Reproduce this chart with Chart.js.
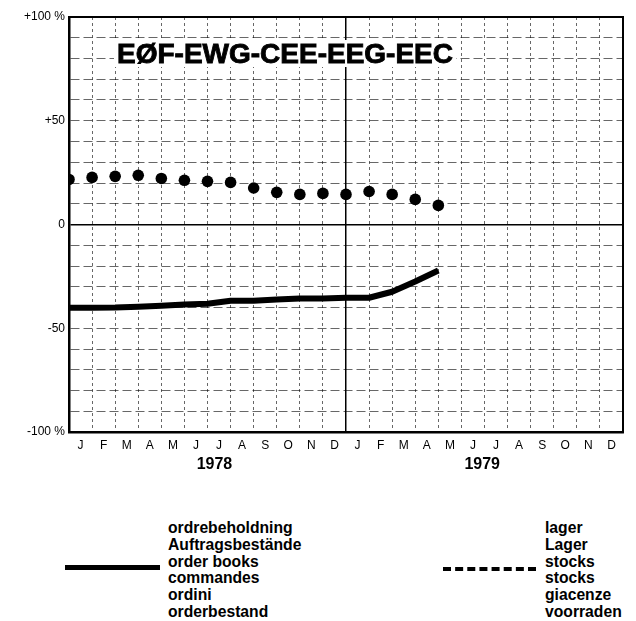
<!DOCTYPE html>
<html>
<head>
<meta charset="utf-8">
<script src="https://cdn.jsdelivr.net/npm/chart.js@4.4.0/dist/chart.umd.min.js"></script>
<style>
  body { margin: 0; background: #fff; }
  #wrap { position: relative; width: 636px; height: 621px; overflow: hidden; }
  #chart { position: absolute; left: 0; top: 0; }
  .lg { position: absolute; font: bold 15.7px "Liberation Sans", Arial, sans-serif; line-height: 16.8px; color: #000; }
  .ln { position: absolute; height: 0; }
</style>
</head>
<body>
<div id="wrap">
  <canvas id="chart" width="636" height="490"></canvas>

  <div class="ln" style="left:65px; top:565px; width:95px; border-top:5px solid #000;"></div>
  <div class="lg" style="left:168px; top:520px;">ordrebeholdning<br>Auftragsbestände<br>order books<br>commandes<br>ordini<br>orderbestand</div>

  <div class="ln" style="left:443px; top:567px; width:93px; border-top:4px dashed #000;"></div>
  <div class="lg" style="left:545px; top:520px;">lager<br>Lager<br>stocks<br>stocks<br>giacenze<br>voorraden</div>
</div>

<script>
const months = ['J', 'F', 'M', 'A', 'M', 'J', 'J', 'A', 'S', 'O', 'N', 'D',
                'J', 'F', 'M', 'A', 'M', 'J', 'J', 'A', 'S', 'O', 'N', 'D'];

// readings at the start of each month, Jan 1978 .. May 1979
const stocks = [21.7, 22.7, 23.2, 23.7, 22.2, 21.3, 20.8, 20.3, 17.6, 15.5, 14.5, 15.0, 14.5, 15.9, 14.5, 12.1, 9.2];
const orderBooks = [-40.1, -40.1, -40.0, -39.6, -39.1, -38.6, -38.2, -36.7, -36.7, -36.2, -35.7, -35.7, -35.3, -35.3, -32.4, -27.5, -22.2];

const yTickValues = [100, 50, 0, -50, -100];
const yTickLabels = ['+100 %', '+50', '0', '-50', '-100 %'];

const yearTicks = [6.3, 17.9];
const yearLabels = ['1978', '1979'];

const title = 'EØF-EWG-CEE-EEG-EEC';

// frame + title inside the plot
const frame = {
    id: 'frame',
    beforeDatasetsDraw(chart) {
        const { ctx, chartArea } = chart;
        ctx.save();
        ctx.font = 'bold 28px "Liberation Sans", Arial, sans-serif';
        const w = ctx.measureText(title).width;
        const x = chartArea.left + 48, y = chartArea.top + 46;
        ctx.fillStyle = '#fff';
        ctx.fillRect(x - 3, y - 23, w + 6, 27);
        ctx.fillStyle = '#000';
        ctx.strokeStyle = '#000';
        ctx.lineWidth = 0.9;
        ctx.fillText(title, x, y);
        ctx.strokeText(title, x, y);
        ctx.restore();
    },
    afterDraw(chart) {
        const { ctx, chartArea } = chart;
        ctx.save();
        ctx.strokeStyle = '#000';
        ctx.lineWidth = 2;
        ctx.strokeRect(chartArea.left, chartArea.top, chartArea.width, chartArea.height);
        ctx.restore();
    }
};

const ctx = document.getElementById('chart');

let chart = new Chart(ctx, {
    type: 'line',
    data: {
        datasets: [
            {
                label: 'order books',
                data: orderBooks.map((v, i) => ({ x: i, y: v })),
                borderColor: '#000',
                borderWidth: 6,
                pointRadius: 0,
                tension: 0,
                borderJoinStyle: 'round',
                xAxisID: 'x',
                yAxisID: 'y'
            },
            {
                label: 'stocks',
                data: stocks.map((v, i) => ({ x: i, y: v })),
                showLine: false,
                pointRadius: 5.8,
                pointBorderWidth: 0,
                pointBackgroundColor: '#000',
                xAxisID: 'x',
                yAxisID: 'y'
            }
        ]
    },
    options: {
        responsive: false,
        animation: false,
        layout: { padding: { top: 17, right: 13, left: 0, bottom: 14 } },
        plugins: {
            legend: { display: false },
            tooltip: { enabled: false }
        },
        scales: {
            x: {
                type: 'linear',
                display: false,
                min: 0,
                max: 24
            },
            m: {
                type: 'category',
                position: 'bottom',
                labels: months,
                offset: true,
                afterFit(scale) { scale.height = 20; },
                grid: {
                    offset: true,
                    drawTicks: false,
                    color: c => c.index === 12 ? '#000' : 'rgba(0,0,0,0.75)',
                    lineWidth: c => c.index === 12 ? 1.5 : 0.8
                },
                border: {
                    color: '#000',
                    width: 2.5,
                    dash: c => c.index === 12 ? [] : [3, 3]
                },
                ticks: {
                    padding: 6,
                    color: '#000',
                    maxRotation: 0,
                    autoSkip: false,
                    font: { family: '"Liberation Sans", Arial, sans-serif', size: 12 }
                }
            },
            yr: {
                type: 'linear',
                position: 'bottom',
                min: 0,
                max: 24,
                afterFit(scale) { scale.height = 24; },
                afterBuildTicks(axis) { axis.ticks = yearTicks.map(v => ({ value: v })); },
                grid: { display: false, drawTicks: false },
                border: { display: false },
                ticks: {
                    padding: 3,
                    color: '#000',
                    maxRotation: 0,
                    autoSkip: false,
                    callback: v => yearLabels[yearTicks.indexOf(v)],
                    font: { family: '"Liberation Sans", Arial, sans-serif', size: 16, weight: 'bold' }
                }
            },
            y: {
                min: -100,
                max: 100,
                afterFit(scale) { scale.width = 69; },
                grid: {
                    drawTicks: false,
                    color: c => c.tick && c.tick.value === 0 ? '#000' : 'rgba(0,0,0,0.75)',
                    lineWidth: c => c.tick && c.tick.value === 0 ? 1.5 : 0.8
                },
                border: {
                    color: '#000',
                    width: 2.5,
                    dash: c => c.tick && c.tick.value === 0 ? [] : [9, 4]
                },
                ticks: {
                    stepSize: 10,
                    padding: 4,
                    color: '#000',
                    callback: v => {
                        const i = yTickValues.indexOf(v);
                        return i < 0 ? '' : yTickLabels[i];
                    },
                    font: { family: '"Liberation Sans", Arial, sans-serif', size: 12 }
                }
            }
        }
    },
    plugins: [frame]
});
</script>
</body>
</html>
